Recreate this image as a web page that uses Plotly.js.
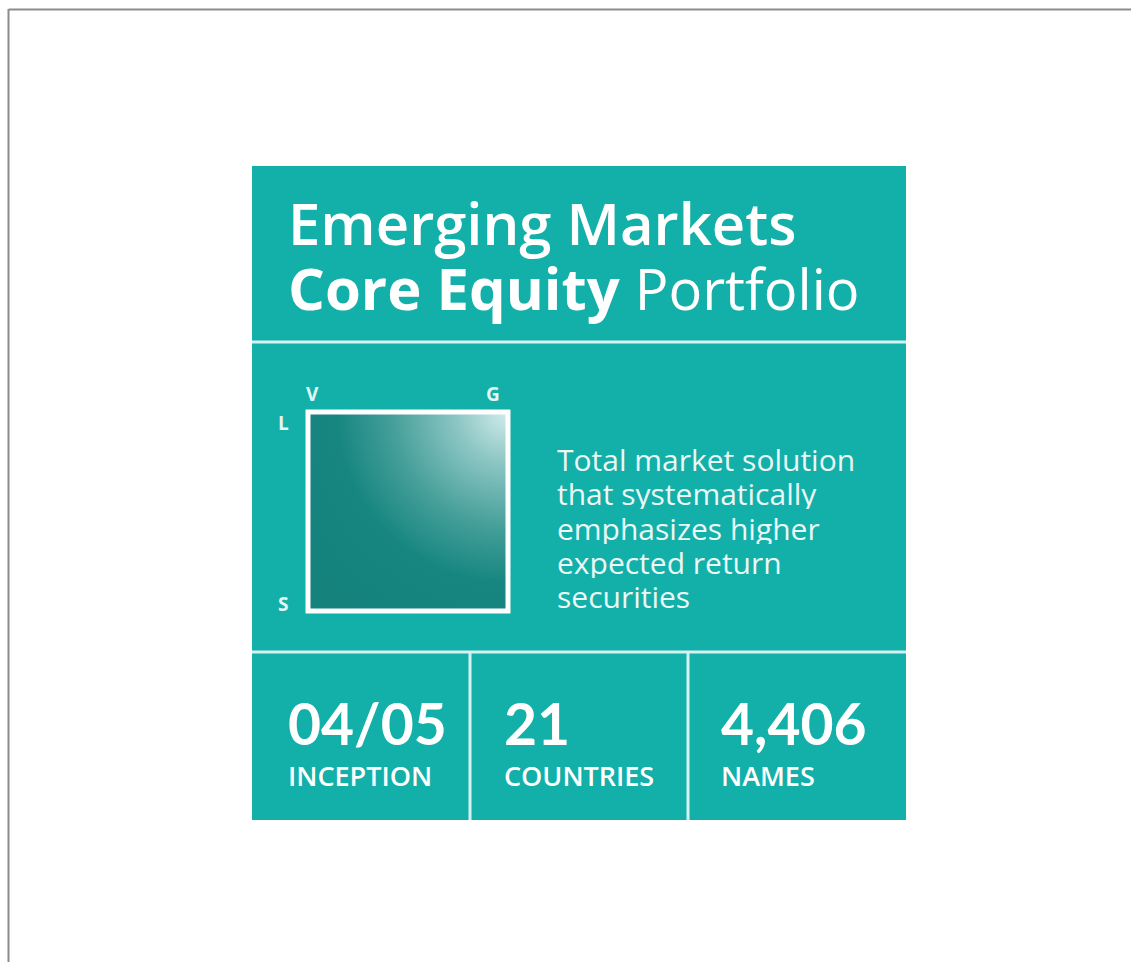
<!DOCTYPE html>
<html>
<head>
<meta charset="utf-8">
<script src="https://cdn.plot.ly/plotly-3.0.1.min.js"></script>
<style>html,body{margin:0;padding:0;background:#fff;}#chart{width:1131px;height:962px;}</style>
</head>
<body>
<div id="chart"></div>
<script>
// ---- content ----
const titleLine1 = "Emerging Markets";
const titleLine2Bold = "Core Equity";
const titleLine2Regular = "Portfolio";
const styleAxisLabels = ["V", "G", "L", "S"];
const descriptionLines = ["Total market solution", "that systematically", "emphasizes higher", "expected return", "securities"];
const statValues = ["04/05", "21", "4,406"];
const statLabels = ["INCEPTION", "COUNTRIES", "NAMES"];

// ---- styling / layout ----
const TEAL = "#13AFA9";
const LINE = "#D6F2EF";
const TXT = "#FFFFFF";
const FONT = "'Open Sans', Lato, sans-serif";
const FONT_NUM = "Lato, 'Open Sans', sans-serif";

const panel = {x0: 252, x1: 906, y0: 166, y1: 820};
const hLines = [342, 652];
const vLines = [470, 688];
const box = {x0: 308, x1: 508, y0: 412, y1: 611};

const shapes = [];
shapes.push({type: "line", xref: "paper", yref: "paper", x0: 0.0077, x1: 1.01, y0: 1 - 9.5/962, y1: 1 - 9.5/962, line: {color: "#8c8c8c", width: 2}});
shapes.push({type: "line", xref: "paper", yref: "paper", x0: 8.5/1131, x1: 8.5/1131, y0: -0.01, y1: 1 - 9/962, line: {color: "#8c8c8c", width: 2}});
shapes.push({type: "rect", x0: panel.x0, x1: panel.x1, y0: panel.y0, y1: panel.y1, fillcolor: TEAL, line: {width: 0}, layer: "below"});
hLines.forEach(y => shapes.push({type: "line", x0: panel.x0, x1: panel.x1, y0: y, y1: y, line: {color: LINE, width: 3}}));
vLines.forEach(x => shapes.push({type: "line", x0: x, x1: x, y0: hLines[1], y1: panel.y1, line: {color: LINE, width: 3}}));
shapes.push({type: "rect", x0: box.x0, x1: box.x1, y0: box.y0, y1: box.y1, line: {color: "#FFFFFF", width: 5}, fillcolor: "rgba(0,0,0,0)", layer: "above"});

const svg = '<svg xmlns="http://www.w3.org/2000/svg" width="200" height="200"><defs>' +
  '<radialGradient id="g" cx="1" cy="0" r="1.3" fx="1" fy="0">' +
  '<stop offset="0" stop-color="#D2ECEC"/><stop offset="0.2" stop-color="#8CC6C3"/>' +
  '<stop offset="0.45" stop-color="#449E99"/><stop offset="0.66" stop-color="#178680"/>' +
  '<stop offset="1" stop-color="#15827C"/></radialGradient></defs>' +
  '<rect width="200" height="200" fill="url(#g)"/></svg>';
const images = [{
  source: "data:image/svg+xml;charset=utf-8," + encodeURIComponent(svg),
  xref: "x", yref: "y", x: box.x0, y: box.y0, sizex: box.x1 - box.x0, sizey: box.y1 - box.y0,
  xanchor: "left", yanchor: "top", sizing: "stretch", layer: "above"
}];

const ann = [];
function A(text, x, y, font, opts) {
  ann.push(Object.assign({text: text, x: x, y: y, xref: "x", yref: "y", showarrow: false,
    xanchor: "left", yanchor: "middle", font: Object.assign({family: FONT, color: TXT}, font)}, opts || {}));
}
// title
A(titleLine1, 286, 222, {size: 58, weight: 600});
A("<b>" + titleLine2Bold + "</b> <span style='font-weight:400;font-size:56px'>" + titleLine2Regular + "</span>", 286, 287, {size: 58, weight: 600});
// style box labels
const axisPos = [[312, 394], [493, 394], [283, 423], [283, 604]];
styleAxisLabels.forEach((t, i) => A(t, axisPos[i][0], axisPos[i][1], {size: 19, weight: 700, color: "#E4F6F4"}, {xanchor: "center"}));
// description
descriptionLines.forEach((t, i) => A(t, 555, 459 + i * 34.3, {size: 30, color: "#EAF8F6"}, {height: 32, valign: "middle"}));
// stats
const statX = [286, 502, 719];
statValues.forEach((v, i) => A("<b>" + v + "</b>", statX[i], 723, {family: FONT_NUM, size: 57}));
statLabels.forEach((v, i) => A(v, statX[i], 775, {size: 27, weight: 600}));

const layout = {
  width: 1131, height: 962,
  margin: {l: 0, r: 0, t: 0, b: 0},
  paper_bgcolor: "#FFFFFF", plot_bgcolor: "#FFFFFF",
  xaxis: {range: [0, 1131], visible: false, fixedrange: true},
  yaxis: {range: [962, 0], visible: false, fixedrange: true},
  shapes: shapes, images: images, annotations: ann, showlegend: false
};
Plotly.newPlot("chart", [{x: [], y: [], type: "scatter"}], layout, {staticPlot: true});
</script>
</body>
</html>
